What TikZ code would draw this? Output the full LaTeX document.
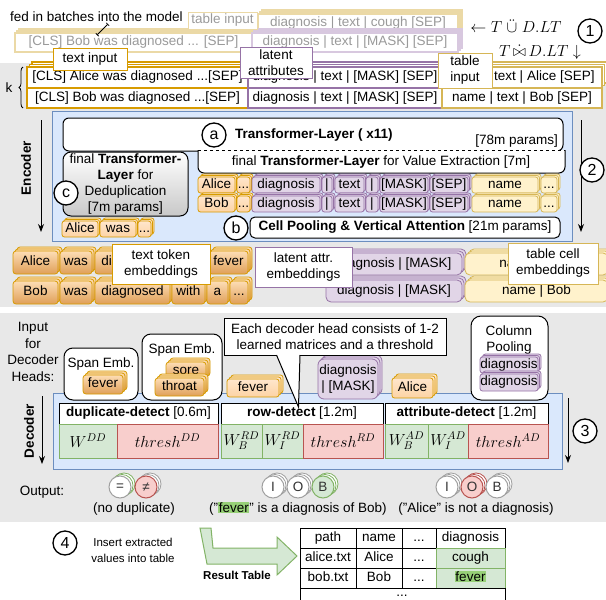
\RequirePackage{fix-cm}
\documentclass[tikz,border=0pt]{standalone}
\usepackage{fontspec}
\setmainfont{Liberation Sans}
\usetikzlibrary{arrows.meta,decorations.pathreplacing}
\definecolor{panel}{HTML}{E8E8E8}
\definecolor{oB}{HTML}{D79B00}
\definecolor{oF}{HTML}{FFE6CC}
\definecolor{oF2}{HTML}{FCD3A4}
\definecolor{eT}{HTML}{FDDDB5}
\definecolor{eB}{HTML}{DF9F58}
\definecolor{yB}{HTML}{D6B656}
\definecolor{yF}{HTML}{FFF2CC}
\definecolor{pB}{HTML}{9673A6}
\definecolor{pF}{HTML}{E1D5E7}
\definecolor{bB}{HTML}{6C8EBF}
\definecolor{bF}{HTML}{DAE8FC}
\definecolor{gB}{HTML}{82B366}
\definecolor{gF}{HTML}{D5E8D4}
\definecolor{rB}{HTML}{B85450}
\definecolor{rF}{HTML}{F8CECC}
\definecolor{hl}{HTML}{97D077}
\definecolor{fadeY}{HTML}{EBD9A6}
\definecolor{fadeP}{HTML}{D8C8DF}
\definecolor{fadeT}{HTML}{9A9A9A}
\definecolor{dgray}{HTML}{C8C8C8}
\definecolor{cgray}{HTML}{A0A0A0}
\setlength{\fboxsep}{0.6pt}
\newcommand\fs{\fontsize{13.5}{16}\selectfont}
\newcommand\pbox[7]{\node[#6,minimum width={(#4-#2)*1pt},minimum height={(#5-#3)*1pt}] (#1) at ({(#2+#4)/2},{(#3+#5)/2}) {#7};}
\newcommand\stk[8][2]{%
  \path[#7] ({#3+2*#1},{#4-2*#1}) rectangle ({#5+2*#1},{#6-2*#1});%
  \path[#7] ({#3+#1},{#4-#1}) rectangle ({#5+#1},{#6-#1});%
  \pbox{#2}{#3}{#4}{#5}{#6}{#7}{#8}}
\newcommand\ocir[6]{%
  \draw[line width=0.8pt,draw=#6,fill=white] ({#2+4},{#3-3}) circle[radius=11];%
  \draw[line width=0.8pt,draw=#6,fill=white] ({#2+2},{#3-1.5}) circle[radius=11];%
  \node[circle,minimum size=22pt,line width=1pt,text=black!80,#4] (#1) at (#2,#3) {#5};}
\begin{document}
\begin{tikzpicture}[x=1pt,y=-1pt,font=\fs,
  every node/.style={inner sep=0pt,outer sep=0pt},
  sl/.style={text height=9.6pt,text depth=2.9pt},
  wbox/.style={draw,fill=white,line width=1pt},
  lab/.style={fill=white,line width=1pt,align=center},
  orow/.style={draw=oB,fill=white,line width=1.8pt,sl},
  prow/.style={draw=pB,fill=white,line width=1.8pt,sl},
  yrow/.style={draw=yB,fill=white,line width=1.8pt,sl},
  fyrow/.style={draw=fadeY,fill=white,line width=1.5pt,sl,text=fadeT},
  fprow/.style={draw=fadeP,fill=white,line width=1.5pt,sl,text=fadeT},
  otokb/.style={draw=oB,top color=oF,bottom color=oF2,line width=0.8pt,rounded corners=2.5pt},
  otok/.style={otokb,sl},
  ptokb/.style={draw=pB,fill=pF,line width=0.8pt,rounded corners=2.5pt},
  ptok/.style={ptokb,sl},
  ytok/.style={draw=yB,fill=yF,line width=0.8pt,rounded corners=2.5pt,sl},
  emb/.style={draw=oB,top color=eT,bottom color=eB,line width=0.8pt,rounded corners=3pt,sl},
  cnum/.style={circle,draw,line width=1.3pt,fill=white,minimum size=24pt,font=\fontsize{16}{18}\selectfont},
  hdr/.style={draw,fill=white,line width=1pt,sl},
  gcell/.style={draw=gB,fill=gF,line width=1pt,font=\fontsize{16}{18}\selectfont},
  rcell/.style={draw=rB,fill=rF,line width=1pt,font=\fontsize{16}{18}\selectfont},
  tcell/.style={draw,fill=white,line width=0.8pt,sl},
  arr/.style={-{Stealth[length=8pt,width=6pt]},line width=1pt}]
\useasboundingbox (0,0) rectangle (606,600);
% panels
\fill[panel] (0,63) rectangle (606,307);
\fill[panel] (0,313) rectangle (606,522);

% ---------- faded batch ----------
\node[anchor=west,sl] (fed) at (10,18) {fed in batches into the model};
\stk[2]{fy}{258}{14}{458}{32}{fyrow}{diagnosis | text | cough [SEP]}
\stk[2]{fo}{15}{33}{252}{52}{fyrow}{[CLS] Bob was diagnosed ... [SEP]}
\stk[2]{fp}{252}{33}{458}{52}{fprow}{diagnosis | text | [MASK] [SEP]}
\pbox{fti}{188}{12}{257}{29}{lab,draw=fadeY,text=fadeT,sl}{table input}
\coordinate (fa) at (108,24);
\coordinate (fb) at (97,35);
\draw[{Bar[width=4pt]}-{Bar[width=4pt]},line width=0.8pt] (fa) -- (fb);
\node[font=\fontsize{16}{18}\selectfont] (m1) at (516,26) {$\leftarrow T\ \ddot{\cup}\ D.LT$};
\node[font=\fontsize{16}{18}\selectfont] (m2) at (540,52) {$T\,\dot{\bowtie}\,D.LT\downarrow$};
\node[cnum] (n1) at (590,31) {1};

% ---------- input rows ----------
\stk[2.5]{ra}{27}{67}{248}{88}{orow}{[CLS] Alice was diagnosed ...[SEP]}
\stk[2.5]{rap}{248}{67}{442}{88}{prow}{diagnosis | text | [MASK] [SEP]}
\stk[2.5]{ray}{442}{67}{602}{88}{yrow}{name | text | Alice [SEP]}
\pbox{rb}{27}{88}{248}{108}{orow}{[CLS] Bob was diagnosed ...[SEP]}
\pbox{rbp}{248}{88}{442}{108}{prow}{diagnosis | text | [MASK] [SEP]}
\pbox{rby}{442}{88}{602}{108}{yrow}{name | text | Bob [SEP]}
\pbox{lti}{53}{48}{127}{70}{lab,draw=oB,sl}{text input}
\pbox{lla}{240}{47}{312}{78}{lab,draw=pB}{latent\\attributes}
\pbox{lta}{438}{53}{492}{88}{lab,draw=yB}{table\\input}
\draw[decorate,decoration={brace,amplitude=4pt},line width=0.8pt] (23,108) -- (23,67);
\node (k) at (9,88) {k};

% ---------- encoder ----------
\pbox{enc}{52}{111}{572}{241}{draw=bB,fill=bF,line width=1pt}{}
\node[rotate=90,font=\fs\bfseries] (encl) at (26,168) {Encoder};
\coordinate (ea1) at (41,120);
\coordinate (ea2) at (41,232);
\draw[arr] (ea1) -- (ea2);
\pbox{tl}{63}{118}{563}{151}{wbox,rounded corners=6pt}{}
\node[anchor=west,font=\fs\bfseries,sl] (tlt) at (235,135) {Transformer-Layer ( x11)};
\node[cnum] (ca) at (214,135) {a};
\node[anchor=east,sl] (tlp) at (558,141) {[78m params]};
\filldraw[fill=white,rounded corners=6pt,line width=1pt] (198,150) -- (198,173) -- (565,173) -- (565,150);
\draw[dashed,line width=1pt] (198,150) -- (565,150);
\node[sl] (vx) at (381,162) {final \textbf{Transformer-Layer} for Value Extraction [7m]};
\pbox{dd}{63}{152}{188}{216}{draw,line width=1pt,rounded corners=8pt,top color=white,bottom color=dgray,align=center}{final \textbf{Transformer-}\\\textbf{Layer} for\\Deduplication\\{[7m params]}}
\node[cnum] (cc) at (66,193) {c};
% token rows
\stk[1.5]{eA1}{198}{177}{235}{193}{otok}{Alice}
\stk[1.5]{eA2}{237}{177}{250}{193}{otok}{...}
\stk[1.5]{eA3}{252}{177}{320}{193}{ptok}{diagnosis}
\stk[1.5]{eA4}{322}{177}{332}{193}{ptok}{|}
\stk[1.5]{eA5}{335}{177}{364}{193}{ptok}{text}
\stk[1.5]{eA6}{366}{177}{378}{193}{ptok}{|}
\stk[1.5]{eA7}{380}{177}{428}{193}{ptok}{[MASK]}
\stk[1.5]{eA8}{430}{177}{468}{193}{ptok}{[SEP]}
\stk[1.5]{eA9}{472}{177}{538}{193}{ytok}{name}
\stk[1.5]{eA10}{541}{177}{557}{193}{ytok}{...}
\stk[1.5]{eB1}{198}{196}{235}{212}{otok}{Bob}
\stk[1.5]{eB2}{237}{196}{250}{212}{otok}{...}
\stk[1.5]{eB3}{252}{196}{320}{212}{ptok}{diagnosis}
\stk[1.5]{eB4}{322}{196}{332}{212}{ptok}{|}
\stk[1.5]{eB5}{335}{196}{364}{212}{ptok}{text}
\stk[1.5]{eB6}{366}{196}{378}{212}{ptok}{|}
\stk[1.5]{eB7}{380}{196}{428}{212}{ptok}{[MASK]}
\stk[1.5]{eB8}{430}{196}{468}{212}{ptok}{[SEP]}
\stk[1.5]{eB9}{472}{196}{538}{212}{ytok}{name}
\stk[1.5]{eB10}{541}{196}{557}{212}{ytok}{...}
\stk[1.5]{eC1}{62}{221}{98}{237}{otok}{Alice}
\stk[1.5]{eC2}{100}{221}{136}{237}{otok}{was}
\stk[1.5]{eC3}{138}{221}{151}{237}{otok}{...}
\node[cnum] (cb) at (236,228) {b};
\pbox{cp}{250}{217}{560}{238}{wbox,rounded corners=5pt,sl}{\textbf{Cell Pooling \& Vertical Attention} [21m params]}
\coordinate (e2a) at (581,120);
\coordinate (e2b) at (581,232);
\draw[arr] (e2a) -- (e2b);
\node[cnum] (n2) at (592,170) {2};

% ---------- embeddings ----------
\stk[2]{t1a}{13}{251}{58}{274}{emb}{Alice}
\stk[2]{t1b}{60}{251}{92}{274}{emb}{was}
\stk[2]{t1c}{95}{251}{170}{274}{emb}{diagnosed}
\stk[2]{t1d}{172}{251}{205}{274}{emb}{with}
\stk[2]{t1e}{209}{251}{248}{274}{emb}{fever}
\stk[2]{t2a}{13}{281}{58}{304}{emb}{Bob}
\stk[2]{t2b}{60}{281}{92}{304}{emb}{was}
\stk[2]{t2c}{95}{281}{170}{304}{emb}{diagnosed}
\stk[2]{t2d}{172}{281}{205}{304}{emb}{with}
\stk[2]{t2e}{207}{281}{228}{304}{emb}{a}
\stk[2]{t2f}{230}{281}{248}{304}{emb}{...}
\pbox{lte}{112}{244}{210}{284}{lab,draw=oB}{text token\\embeddings}
\stk[2]{la1}{327}{253}{462}{275}{ptok,rounded corners=5pt}{diagnosis | [MASK]}
\stk[2]{la2}{326}{280}{462}{302}{ptok,rounded corners=5pt}{diagnosis | [MASK]}
\pbox{lle}{255}{247}{352}{287}{lab,draw=pB}{latent attr.\\embeddings}
\stk[2]{tc1}{465}{253}{608}{275}{ytok,rounded corners=5pt}{name | Alice}
\stk[2]{tc2}{465}{280}{608}{302}{ytok,rounded corners=5pt}{name | Bob}
\pbox{ltc}{508}{243}{598}{284}{lab,draw=yB}{table cell\\embeddings}

% ---------- decoder ----------
\node[align=center,font=\fontsize{13.5}{16.5}\selectfont] (inp) at (33,352) {Input\\for\\Decoder\\Heads:};
\pbox{dec}{53}{393}{562}{469}{draw=bB,fill=bF,line width=1pt}{}
\node[rotate=90,font=\fs\bfseries] (decl) at (29,431) {Decoder};
\coordinate (da1) at (42,396);
\coordinate (da2) at (42,464);
\draw[arr] (da1) -- (da2);
\pbox{sp1}{64}{348}{138}{400}{wbox,rounded corners=9pt}{}
\node[sl] (sp1t) at (101,364) {Span Emb.};
\stk[2]{sp1f}{83}{375}{123}{394}{emb}{fever}
\pbox{sp2}{142}{334}{222}{400}{wbox,rounded corners=9pt}{}
\node[sl] (sp2t) at (182,350) {Span Emb.};
\stk[2]{sp2s}{166}{362}{206}{380}{emb}{sore}
\stk[2]{sp2r}{155}{378}{204}{396}{emb}{throat}
\stk[2]{dfv}{227}{379}{279}{397}{otok}{fever}
\stk[2]{dm}{318}{359}{378}{399}{ptokb,rounded corners=6pt,align=center}{diagnosis\\| [MASK]}
\stk[2]{dal}{392}{378}{433}{398}{otok}{Alice}
\pbox{colp}{471}{316}{548}{400}{wbox,rounded corners=10pt}{}
\node[align=center] (colpt) at (509,340) {Column\\Pooling};
\stk[1.5]{cd1}{480}{357}{538}{373}{ptok}{diagnosis}
\stk[1.5]{cd2}{480}{374}{538}{391}{ptok}{diagnosis}
% heads
\pbox{hdd}{59}{403}{218}{424}{hdr}{\textbf{duplicate-detect} [0.6m]}
\pbox{wdd}{59}{424}{117}{458}{gcell}{$W^{DD}$}
\pbox{tdd}{117}{424}{218}{458}{rcell}{$thresh^{DD}$}
\pbox{hrd}{221}{403}{383}{424}{hdr}{\textbf{row-detect} [1.2m]}
\pbox{wbrd}{221}{424}{262}{458}{gcell}{$W^{RD}_B$}
\pbox{wird}{262}{424}{303}{458}{gcell}{$W^{RD}_I$}
\pbox{trd}{303}{424}{383}{458}{rcell}{$thresh^{RD}$}
\pbox{had}{385}{403}{548}{424}{hdr}{\textbf{attribute-detect} [1.2m]}
\pbox{wbad}{385}{424}{428}{458}{gcell}{$W^{AD}_B$}
\pbox{wiad}{428}{424}{468}{458}{gcell}{$W^{AD}_I$}
\pbox{tad}{468}{424}{548}{458}{rcell}{$thresh^{AD}$}
\coordinate (d3a) at (568,398);
\coordinate (d3b) at (568,463);
\draw[arr] (d3a) -- (d3b);
\node[cnum] (n3) at (585,431) {3};
% callout
\pbox{co}{224}{318}{446}{355}{draw,fill=white,line width=1pt,align=center}{Each decoder head consists of 1-2\\learned matrices and a threshold}
\coordinate (cpl) at (276.5,355);
\coordinate (cpr) at (300,355);
\coordinate (cpt) at (298.5,407);
\fill[white] (cpl) -- (cpt) -- (cpr) -- cycle;
\draw[line width=1pt] (cpl) -- (cpt) -- (cpr);

% ---------- outputs ----------
\node[sl] (outl) at (42,492) {Output:};
\ocir{oeq}{120}{487}{draw=cgray,fill=white}{=}{gB}
\ocir{one}{146}{487}{draw=rB,fill=rF}{≠}{cgray}
\ocir{rI}{273}{487}{draw=cgray,fill=white}{I}{cgray}
\ocir{rO}{298}{487}{draw=cgray,fill=white}{O}{cgray}
\ocir{rB}{323}{487}{draw=gB,fill=gF}{B}{gB}
\ocir{aI}{447}{487}{draw=cgray,fill=white}{I}{cgray}
\ocir{aO}{472}{487}{draw=rB,fill=rF}{O}{rB}
\ocir{aB}{497}{487}{draw=cgray,fill=white}{B}{cgray}
\node[sl] (ot1) at (134,509) {(no duplicate)};
\node[sl] (ot2) at (298,509) {("\colorbox{hl}{fever}" is a diagnosis of Bob)};
\node[sl] (ot3) at (476,509) {("Alice" is not a diagnosis)};

% ---------- bottom ----------
\node[cnum] (n4) at (65,543) {4};
\node[align=center,font=\fontsize{11.5}{16}\selectfont] (ins) at (133,550) {Insert extracted\\values into table};
\path[draw=gB,fill=gF,line width=1pt] (200,528) -- (211,528) -- (213,548) -- (277,548) -- (277,537) -- (297,556) -- (277,575) -- (277,564) -- (207,564) -- cycle;
\node[font=\fontsize{11.5}{14}\selectfont\bfseries] (rt) at (237,575) {Result Table};
\pbox{c11}{300}{528}{356}{548}{tcell}{path}
\pbox{c12}{356}{528}{402}{548}{tcell}{name}
\pbox{c13}{402}{528}{436}{548}{tcell}{...}
\pbox{c14}{436}{528}{505}{548}{tcell}{diagnosis}
\pbox{c21}{300}{548}{356}{568}{tcell}{alice.txt}
\pbox{c22}{356}{548}{402}{568}{tcell}{Alice}
\pbox{c23}{402}{548}{436}{568}{tcell}{...}
\pbox{c31}{300}{568}{356}{588}{tcell}{bob.txt}
\pbox{c32}{356}{568}{402}{588}{tcell}{Bob}
\pbox{c33}{402}{568}{436}{588}{tcell}{...}
\pbox{c24}{436}{548}{505}{568}{tcell,draw=gB,fill=gF}{cough}
\pbox{c34}{436}{568}{505}{588}{tcell,draw=gB,fill=gF}{\colorbox{hl}{fever}}
\pbox{c4}{300}{588}{505}{612}{tcell}{}
\node (c4t) at (402,595.5) {...};
\end{tikzpicture}
\end{document}
